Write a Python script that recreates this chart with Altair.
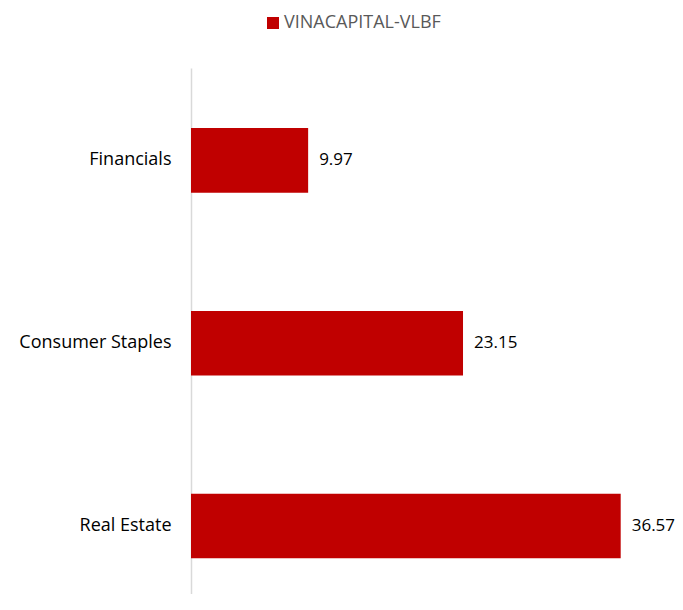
import altair as alt
import pandas as pd

categories = ["Financials", "Consumer Staples", "Real Estate"]
values = [9.97, 23.15, 36.57]
series_name = "VINACAPITAL-VLBF"

df = pd.DataFrame({"sector": categories, "value": values, "series": [series_name] * 3})
df["label"] = df["value"].map(lambda v: f"{v:.2f}")

FONT = "Open Sans"
FS = 18

y_enc = alt.Y(
    "sector:N",
    sort=categories,
    title=None,
    scale=alt.Scale(paddingInner=0.647, paddingOuter=0.2619, align=0.6275),
    axis=alt.Axis(
        domainColor="#d9d9d9", domainWidth=1.5, ticks=False, labelPadding=20,
        labelFont=FONT, labelFontSize=FS, labelColor="#000000", grid=False,
    ),
)
x_enc = alt.X("value:Q", scale=alt.Scale(domain=[0, 40]), axis=None, title=None)

bars = alt.Chart(df).mark_bar(color="#c00000").encode(
    x=x_enc,
    y=y_enc,
    color=alt.Color(
        "series:N",
        scale=alt.Scale(domain=[series_name], range=["#c00000"]),
        legend=alt.Legend(
            title=None, orient="none", legendX=73, legendY=-54, direction="horizontal",
            symbolType="square", symbolSize=144, symbolStrokeWidth=0, symbolOffset=0,
            labelFont=FONT, labelFontSize=FS, labelColor="#595959", labelOffset=2, padding=0,
        ),
    ),
)

labels = alt.Chart(df).mark_text(
    align="left", baseline="middle", dx=11, font=FONT, fontSize=17, color="#000000"
).encode(x=x_enc, y=y_enc, text="label:N")

chart = (
    (bars + labels)
    .properties(
        width=470, height=526,
        autosize=alt.AutoSizeParams(type="none"),
        padding={"left": 183, "top": 60, "right": 14, "bottom": 0},
    )
    .configure_view(stroke=None)
)

chart.save("out.html", embed_options={"renderer": "svg", "actions": False})
